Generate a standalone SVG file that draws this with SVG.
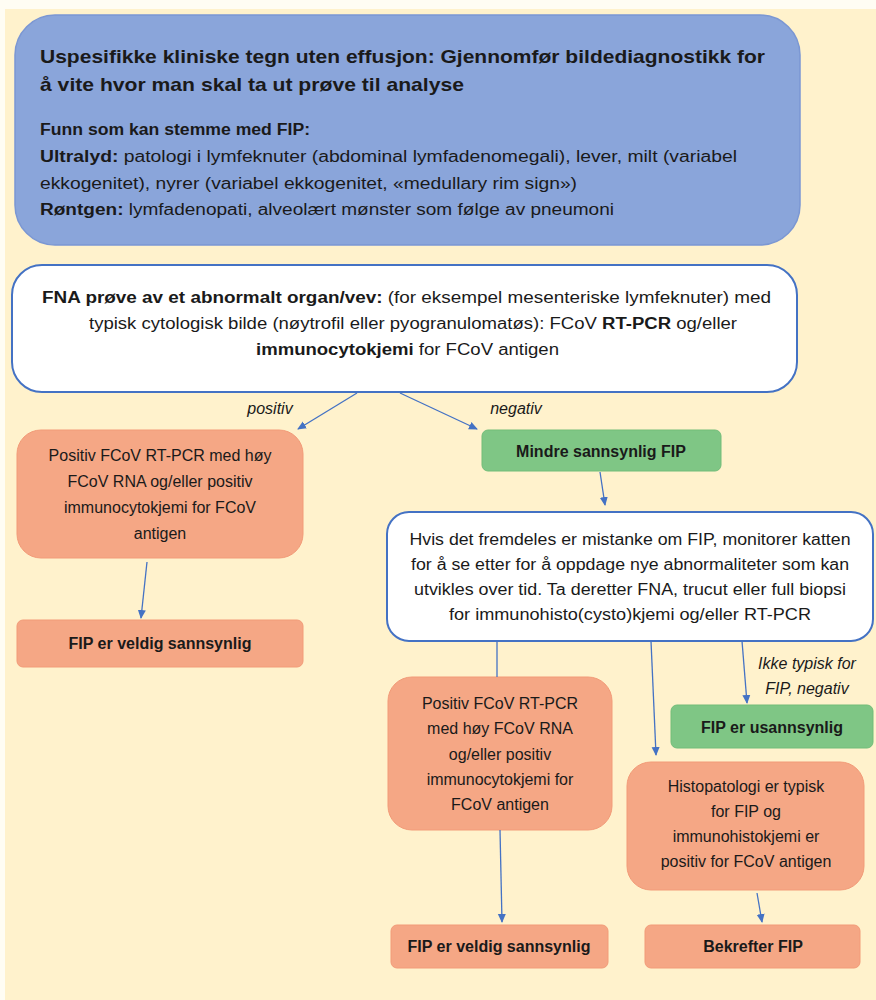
<svg xmlns="http://www.w3.org/2000/svg" width="876" height="1000" viewBox="0 0 876 1000">
<defs>
<marker id="ah" markerWidth="10" markerHeight="10" refX="8" refY="5" orient="auto" markerUnits="userSpaceOnUse">
<path d="M0,1 L9,5 L0,9 Z" fill="#4472C4"/>
</marker>
<style>
text{font-family:"Liberation Sans",Arial,sans-serif;fill:#1a1a1a}
.t{font-size:16px}
.c{text-anchor:middle}
.b{font-weight:bold}
.i{font-style:italic}
.blue{fill:#8AA5DA;stroke:#7B97D3;stroke-width:1.5}
.white{fill:#FFFFFF;stroke:#4472C4;stroke-width:2}
.sal{fill:#F5A785;stroke:#F29B78;stroke-width:1}
.grn{fill:#7FC685;stroke:#72BD79;stroke-width:1}
.con line{stroke:#4472C4;stroke-width:1.3}
</style>
</defs>
<rect x="0" y="0" width="876" height="1000" fill="#FFFDF3"/>
<rect x="5" y="9" width="871" height="991" fill="#FFF2CC"/>

<g id="node-imaging">
<rect class="blue" x="15" y="15" width="785" height="230" rx="40"/>
<text class="b" x="40" y="63" font-size="19" textLength="725" lengthAdjust="spacingAndGlyphs">Uspesifikke kliniske tegn uten effusjon: Gjennomfør bildediagnostikk for</text>
<text class="b" x="40" y="91" font-size="19" textLength="424" lengthAdjust="spacingAndGlyphs">å vite hvor man skal ta ut prøve til analyse</text>
<text class="t b" x="40" y="135" textLength="270" lengthAdjust="spacingAndGlyphs">Funn som kan stemme med FIP:</text>
<text class="t" x="40" y="162" textLength="697" lengthAdjust="spacingAndGlyphs"><tspan font-weight="bold">Ultralyd:</tspan> patologi i lymfeknuter (abdominal lymfadenomegali), lever, milt (variabel</text>
<text class="t" x="40" y="189" textLength="537" lengthAdjust="spacingAndGlyphs">ekkogenitet), nyrer (variabel ekkogenitet, «medullary rim sign»)</text>
<text class="t" x="40" y="215" textLength="574" lengthAdjust="spacingAndGlyphs"><tspan font-weight="bold">Røntgen:</tspan> lymfadenopati, alveolært mønster som følge av pneumoni</text>
</g>

<g id="node-fna">
<rect class="white" x="12" y="265" width="785" height="127" rx="30"/>
<text class="t" x="42" y="303" textLength="729" lengthAdjust="spacingAndGlyphs"><tspan font-weight="bold">FNA prøve av et abnormalt organ/vev:</tspan> (for eksempel mesenteriske lymfeknuter) med</text>
<text class="t" x="89" y="329" textLength="648" lengthAdjust="spacingAndGlyphs">typisk cytologisk bilde (nøytrofil eller pyogranulomatøs): FCoV <tspan font-weight="bold">RT-PCR</tspan> og/eller</text>
<text class="t" x="256" y="355" textLength="303" lengthAdjust="spacingAndGlyphs"><tspan font-weight="bold">immunocytokjemi</tspan> for FCoV antigen</text>
</g>

<g id="node-pos1">
<rect class="sal" x="17" y="430" width="286" height="128" rx="24"/>
<text class="t c" x="160" y="461">Positiv FCoV RT-PCR med høy</text>
<text class="t c" x="160" y="487">FCoV RNA og/eller positiv</text>
<text class="t c" x="160" y="513">immunocytokjemi for FCoV</text>
<text class="t c" x="160" y="539">antigen</text>
</g>

<g id="node-likely1">
<rect class="sal" x="17" y="620" width="286" height="47" rx="6"/>
<text class="t c b" x="160" y="649">FIP er veldig sannsynlig</text>
</g>

<g id="node-less">
<rect class="grn" x="482" y="430" width="239" height="41" rx="6"/>
<text class="t c b" x="601" y="457">Mindre sannsynlig FIP</text>
</g>

<g id="node-monitor">
<rect class="white" x="387" y="512" width="486" height="129" rx="22"/>
<text class="t c" x="630" y="545" textLength="441" lengthAdjust="spacingAndGlyphs">Hvis det fremdeles er mistanke om FIP, monitorer katten</text>
<text class="t c" x="630" y="570" textLength="438" lengthAdjust="spacingAndGlyphs">for å se etter for å oppdage nye abnormaliteter som kan</text>
<text class="t c" x="630" y="595" textLength="432" lengthAdjust="spacingAndGlyphs">utvikles over tid. Ta deretter FNA, trucut eller full biopsi</text>
<text class="t c" x="630" y="620" textLength="362" lengthAdjust="spacingAndGlyphs">for immunohisto(cysto)kjemi og/eller RT-PCR</text>
</g>

<g id="node-pos2">
<rect class="sal" x="388" y="677" width="224" height="153" rx="24"/>
<text class="t c" x="500" y="709">Positiv FCoV RT-PCR</text>
<text class="t c" x="500" y="734">med høy FCoV RNA</text>
<text class="t c" x="500" y="760">og/eller positiv</text>
<text class="t c" x="500" y="785">immunocytokjemi for</text>
<text class="t c" x="500" y="810">FCoV antigen</text>
</g>

<g id="node-unlikely">
<rect class="grn" x="671" y="705" width="202" height="43" rx="6"/>
<text class="t c b" x="772" y="733">FIP er usannsynlig</text>
</g>

<g id="node-histo">
<rect class="sal" x="627" y="762" width="237" height="128" rx="24"/>
<text class="t c" x="746" y="792">Histopatologi er typisk</text>
<text class="t c" x="746" y="817">for FIP og</text>
<text class="t c" x="746" y="842">immunohistokjemi er</text>
<text class="t c" x="746" y="867">positiv for FCoV antigen</text>
</g>

<g id="node-likely2">
<rect class="sal" x="391" y="925" width="217" height="43" rx="6"/>
<text class="t c b" x="499" y="952">FIP er veldig sannsynlig</text>
</g>

<g id="node-confirm">
<rect class="sal" x="645" y="925" width="215" height="43" rx="6"/>
<text class="t c b" x="753" y="952">Bekrefter FIP</text>
</g>

<g id="connectors" class="con">
<line x1="357" y1="393" x2="298" y2="429" marker-end="url(#ah)"/>
<line x1="400" y1="393" x2="477" y2="429" marker-end="url(#ah)"/>
<line x1="147" y1="562" x2="141" y2="618" marker-end="url(#ah)"/>
<line x1="600" y1="472" x2="605" y2="505" marker-end="url(#ah)"/>
<line x1="497" y1="641" x2="497" y2="677"/>
<line x1="651" y1="641" x2="656" y2="755" marker-end="url(#ah)"/>
<line x1="742" y1="641" x2="747" y2="703" marker-end="url(#ah)"/>
<line x1="500" y1="830" x2="502" y2="922" marker-end="url(#ah)"/>
<line x1="757" y1="893" x2="762" y2="922" marker-end="url(#ah)"/>
</g>
<g id="labels">
<text class="t c i" x="270" y="414">positiv</text>
<text class="t c i" x="516" y="414">negativ</text>
<text class="t c i" x="807" y="669">Ikke typisk for</text>
<text class="t c i" x="807" y="694">FIP, negativ</text>
</g>
</svg>
